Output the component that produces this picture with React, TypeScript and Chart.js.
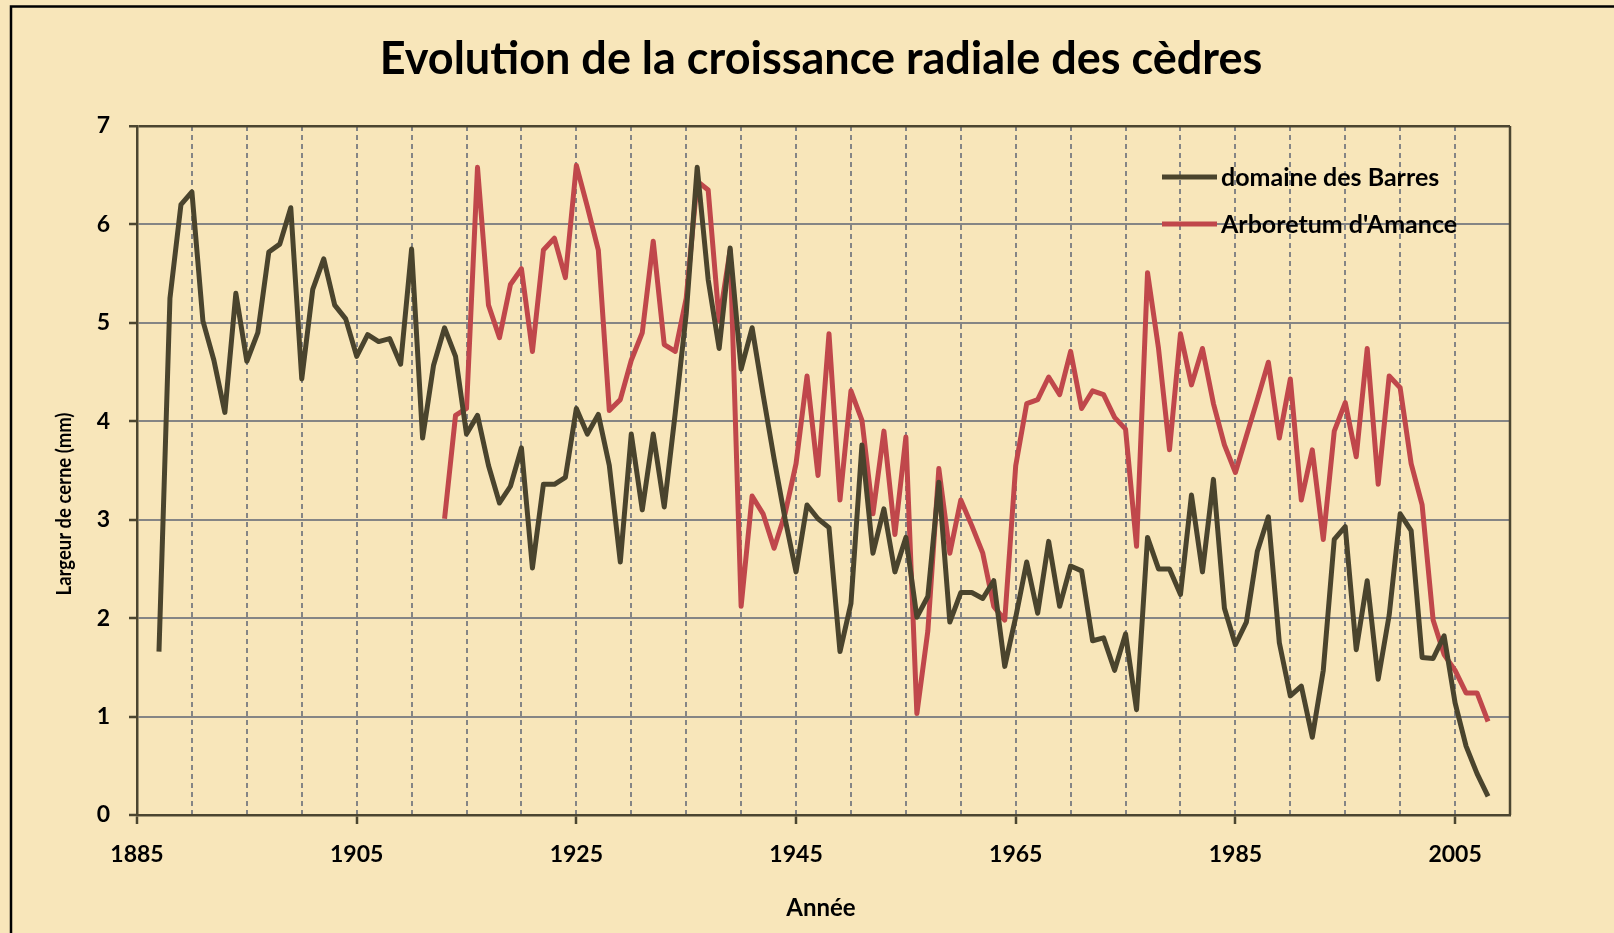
import { useEffect, useRef } from "react";
import { Chart, registerables } from "chart.js";

Chart.register(...registerables);

// ---- Text ----
const chartTitle = "Evolution de la croissance radiale des cèdres";
const xAxisTitle = "Année";
const yAxisTitle = "Largeur de cerne (mm)";
const barresLabel = "domaine des Barres";
const amanceLabel = "Arboretum d'Amance";

// ---- Data (ring width in mm, one value per year) ----
const barresStartYear = 1887;
const barresValues = [
  1.66, 5.25, 6.2, 6.33, 5.02, 4.62, 4.09, 5.3, 4.61, 4.9, // 1887-1896
  5.72, 5.8, 6.17, 4.43, 5.34, 5.65, 5.18, 5.04, 4.66, 4.88, // 1897-1906
  4.81, 4.84, 4.58, 5.75, 3.83, 4.57, 4.95, 4.66, 3.87, 4.06, // 1907-1916
  3.55, 3.17, 3.34, 3.73, 2.51, 3.36, 3.36, 3.43, 4.13, 3.87, // 1917-1926
  4.07, 3.55, 2.57, 3.87, 3.1, 3.87, 3.13, 4.08, 5.09, 6.58, // 1927-1936
  5.44, 4.74, 5.76, 4.53, 4.95, 4.27, 3.62, 3.01, 2.47, 3.15, // 1937-1946
  3.01, 2.92, 1.66, 2.15, 3.76, 2.66, 3.11, 2.47, 2.82, 2.01, // 1947-1956
  2.22, 3.38, 1.96, 2.26, 2.26, 2.2, 2.38, 1.51, 2.01, 2.57, // 1957-1966
  2.05, 2.78, 2.12, 2.53, 2.48, 1.77, 1.8, 1.47, 1.84, 1.07, // 1967-1976
  2.82, 2.5, 2.5, 2.24, 3.25, 2.47, 3.41, 2.1, 1.73, 1.96, // 1977-1986
  2.68, 3.03, 1.75, 1.21, 1.31, 0.79, 1.47, 2.8, 2.93, 1.68, // 1987-1996
  2.38, 1.38, 2.03, 3.06, 2.89, 1.6, 1.59, 1.82, 1.14, 0.7, // 1997-2006
  0.42, 0.19, // 2007-2008
];

const amanceStartYear = 1913;
const amanceValues = [
  3.01, 4.06, 4.13, 6.58, 5.18, 4.85, 5.39, 5.55, 4.71, 5.74, // 1913-1922
  5.86, 5.46, 6.6, 6.18, 5.74, 4.11, 4.22, 4.62, 4.9, 5.83, // 1923-1932
  4.78, 4.71, 5.25, 6.44, 6.35, 5.02, 5.74, 2.12, 3.24, 3.06, // 1933-1942
  2.71, 3.06, 3.57, 4.46, 3.45, 4.89, 3.2, 4.31, 4.01, 3.06, // 1943-1952
  3.9, 2.85, 3.84, 1.03, 1.87, 3.52, 2.66, 3.2, 2.94, 2.66, // 1953-1962
  2.12, 1.98, 3.55, 4.18, 4.22, 4.45, 4.27, 4.71, 4.13, 4.31, // 1963-1972
  4.27, 4.04, 3.92, 2.73, 5.51, 4.74, 3.71, 4.89, 4.37, 4.74, // 1973-1982
  4.18, 3.76, 3.48, 3.85, 4.22, 4.6, 3.83, 4.43, 3.2, 3.71, // 1983-1992
  2.8, 3.9, 4.19, 3.64, 4.74, 3.36, 4.46, 4.34, 3.57, 3.15, // 1993-2002
  1.98, 1.63, 1.47, 1.24, 1.24, 0.95, // 2003-2008
];

// ---- Axes ----
const xMin = 1885;
const xMax = 2010;
const xGridStep = 5;
const xLabelYears = [1885, 1905, 1925, 1945, 1965, 1985, 2005];
const yMin = 0;
const yMax = 7;
const yStep = 1;

// ---- Styles ----
const BG = "#F8E6BA";
const AXIS = "#4B4530";
const GRID = "#858585";
const BARRES_COLOR = "#4A442D";
const AMANCE_COLOR = "#C0474B";
const FONT = "Lato, 'Open Sans', sans-serif";

const toPoints = (start: number, values: number[]) =>
  values.map((v, i) => ({ x: start + i, y: v }));

const decorPlugin = {
  id: "decor",
  beforeDraw(chart: any) {
    const { ctx, width, height } = chart;
    ctx.save();
    ctx.fillStyle = BG;
    ctx.fillRect(0, 0, width, height);
    ctx.restore();
  },
  afterDraw(chart: any) {
    const { ctx, chartArea } = chart;
    ctx.save();
    // outer chart border (top & left visible)
    ctx.strokeStyle = "#000";
    ctx.lineWidth = 2.5;
    ctx.beginPath();
    ctx.moveTo(11, 940);
    ctx.lineTo(11, 6.5);
    ctx.lineTo(1620, 6.5);
    ctx.stroke();

    // right frame of plot area
    ctx.strokeStyle = AXIS;
    ctx.lineWidth = 2.5;
    ctx.beginPath();
    ctx.moveTo(chartArea.right, chartArea.top);
    ctx.lineTo(chartArea.right, chartArea.bottom);
    ctx.stroke();

    // title
    ctx.fillStyle = "#000";
    ctx.textAlign = "center";
    ctx.textBaseline = "middle";
    ctx.font = `bold 45px ${FONT}`;
    ctx.fillText(chartTitle, 821, 59);

    // x axis title
    ctx.font = `bold 24px ${FONT}`;
    ctx.fillText(xAxisTitle, 821, 908);

    // y axis title
    ctx.save();
    ctx.translate(64, 504);
    ctx.rotate(-Math.PI / 2);
    ctx.scale(0.88, 1);
    ctx.font = `bold 21px ${FONT}`;
    ctx.fillText(yAxisTitle, 0, 0);
    ctx.restore();

    // legend
    const items = [
      { label: barresLabel, color: BARRES_COLOR, y: 177 },
      { label: amanceLabel, color: AMANCE_COLOR, y: 224 },
    ];
    ctx.font = `bold 25px ${FONT}`;
    ctx.textAlign = "left";
    for (const it of items) {
      ctx.strokeStyle = it.color;
      ctx.lineWidth = 5;
      ctx.beginPath();
      ctx.moveTo(1162, it.y);
      ctx.lineTo(1217, it.y);
      ctx.stroke();
      ctx.fillStyle = "#000";
      ctx.fillText(it.label, 1221, it.y + 1);
    }
    ctx.restore();
  },
};

export default function App() {
  const canvasRef = useRef<HTMLCanvasElement | null>(null);

  useEffect(() => {
    document.body.style.margin = "0";
    document.body.style.background = BG;
    const canvas = canvasRef.current;
    if (!canvas) return;
    const chart = new Chart(canvas, {
      type: "line",
      data: {
        datasets: [
          {
            label: barresLabel,
            data: toPoints(barresStartYear, barresValues),
            borderColor: BARRES_COLOR,
            backgroundColor: BARRES_COLOR,
            borderWidth: 5,
            pointRadius: 0,
            tension: 0,
            borderJoinStyle: "round",
          },
          {
            label: amanceLabel,
            data: toPoints(amanceStartYear, amanceValues),
            borderColor: AMANCE_COLOR,
            backgroundColor: AMANCE_COLOR,
            borderWidth: 5,
            pointRadius: 0,
            tension: 0,
            borderJoinStyle: "round",
          },
        ],
      },
      options: {
        responsive: false,
        animation: false,
        events: [],
        layout: { padding: { top: 126, right: 104, left: 0, bottom: 0 } },
        plugins: {
          legend: { display: false },
          title: { display: false },
          tooltip: { enabled: false },
        },
        scales: {
          x: {
            type: "linear",
            min: xMin,
            max: xMax,
            afterFit: (s: any) => {
              s.height = 118;
            },
            ticks: {
              stepSize: xGridStep,
              autoSkip: false,
              maxRotation: 0,
              padding: 17,
              color: "#000",
              font: { family: FONT, size: 23, weight: "bold" },
              callback: (v: any) => (xLabelYears.includes(Number(v)) ? String(v) : ""),
            },
            grid: {
              color: (c: any) =>
                c.tick && (c.tick.value === xMin || c.tick.value === xMax) ? "transparent" : GRID,
              lineWidth: 2,
              tickLength: 9,
              tickWidth: 2.5,
              tickColor: (c: any) =>
                c.tick && xLabelYears.includes(c.tick.value) ? AXIS : "transparent",
            },
            border: { color: AXIS, width: 2.5, dash: [5, 4] },
          },
          y: {
            min: yMin,
            max: yMax,
            afterFit: (s: any) => {
              s.width = 137;
            },
            ticks: {
              stepSize: yStep,
              padding: 19,
              color: "#000",
              font: { family: FONT, size: 23, weight: "bold" },
            },
            grid: {
              color: (c: any) =>
                c.tick && c.tick.value === yMax ? AXIS : c.tick && c.tick.value === yMin ? "transparent" : GRID,
              lineWidth: (c: any) => (c.tick && c.tick.value === yMax ? 2.5 : 2),
              tickLength: 8,
              tickWidth: 2.5,
              tickColor: AXIS,
            },
            border: { color: AXIS, width: 2.5 },
          },
        },
      },
      plugins: [decorPlugin],
    } as any);
    return () => chart.destroy();
  }, []);

  return (
    <div style={{ width: 1614, height: 933, background: BG }}>
      <canvas ref={canvasRef} width={1614} height={933} style={{ display: "block" }} />
    </div>
  );
}
